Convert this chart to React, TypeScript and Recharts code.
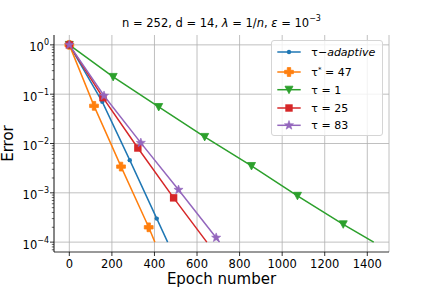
import { CartesianGrid, Legend, Line, LineChart, XAxis, YAxis } from "recharts";

const adaptiveEpochs = [0, 155, 284, 411, 462];
const adaptiveError = [1, 0.07, 4.6e-3, 3.0e-4, 1.0e-4];
const optimalEpochs = [0, 116, 243, 373, 402];
const optimalError = [1, 0.058, 3.4e-3, 2.0e-4, 1.0e-4];
const tau1Epochs = [0, 206, 420, 636, 856, 1072, 1287, 1430];
const tau1Error = [1, 0.224, 0.055, 0.0136, 3.5e-3, 8.7e-4, 2.3e-4, 1.0e-4];
const tau25Epochs = [0, 158, 322, 490, 646];
const tau25Error = [1, 0.085, 8.1e-3, 7.9e-4, 1.0e-4];
const tau83Epochs = [0, 163, 336, 513, 690, 706];
const tau83Error = [1, 0.093, 0.0103, 1.15e-3, 1.23e-4, 1.0e-4];

const xTicks = [0, 200, 400, 600, 800, 1000, 1200, 1400];
const yMajor = [1e-4, 1e-3, 1e-2, 1e-1, 1];
const yMinor = [7e-5, 8e-5, 9e-5].concat(
  ...[-4, -3, -2, -1].map((k) => [2, 3, 4, 5, 6, 7, 8, 9].map((m) => Number((m * Math.pow(10, k)).toPrecision(3))))
);

const font = "DejaVu Sans, sans-serif";

type Kind = "dot" | "plus" | "tri" | "square" | "star";

function marker(kind: Kind, cx: number, cy: number, color: string) {
  if (kind === "dot") return <circle cx={cx} cy={cy} r={2.2} fill={color} />;
  if (kind === "plus") {
    const h = 4.4, t = 1.7;
    const d = `M${cx - t},${cy - h}H${cx + t}V${cy - t}H${cx + h}V${cy + t}H${cx + t}V${cy + h}H${cx - t}V${cy + t}H${cx - h}V${cy - t}H${cx - t}Z`;
    return <path d={d} fill={color} stroke={color} strokeWidth={0.8} strokeLinejoin="round" />;
  }
  if (kind === "tri")
    return <polygon points={`${cx - 4},${cy - 3.5} ${cx + 4},${cy - 3.5} ${cx},${cy + 4}`} fill={color} stroke={color} strokeWidth={0.8} />;
  if (kind === "square") return <rect x={cx - 3.7} y={cy - 3.7} width={7.4} height={7.4} fill={color} />;
  const pts: string[] = [];
  for (let i = 0; i < 10; i++) {
    const r = i % 2 === 0 ? 4.8 : 2;
    const a = -Math.PI / 2 + (i * Math.PI) / 5;
    pts.push(`${cx + r * Math.cos(a)},${cy + r * Math.sin(a)}`);
  }
  return <polygon points={pts.join(" ")} fill={color} stroke={color} strokeWidth={0.6} />;
}

const toRows = (xs: number[], ys: number[]) => xs.map((x, i) => ({ x, y: ys[i] }));

const series = [
  { key: "adaptive", color: "#1f77b4", kind: "dot" as Kind, data: toRows(adaptiveEpochs, adaptiveError) },
  { key: "optimal", color: "#ff7f0e", kind: "plus" as Kind, data: toRows(optimalEpochs, optimalError) },
  { key: "tau1", color: "#2ca02c", kind: "tri" as Kind, data: toRows(tau1Epochs, tau1Error) },
  { key: "tau25", color: "#d62728", kind: "square" as Kind, data: toRows(tau25Epochs, tau25Error) },
  { key: "tau83", color: "#9467bd", kind: "star" as Kind, data: toRows(tau83Epochs, tau83Error) },
];

const legendLabels = [
  <>τ−<tspan fontStyle="italic">adaptive</tspan></>,
  <>τ<tspan dy={-4} fontSize={7}>*</tspan><tspan dy={4}> = 47</tspan></>,
  <>τ = 1</>,
  <>τ = 25</>,
  <>τ = 83</>,
];
const legendRows = [11, 31, 48.7, 67, 84.3];

function LegendBox() {
  return (
    <div style={{ width: 112, height: 96, border: "1px solid #d5d5d5", borderRadius: 3, background: "rgba(255,255,255,0.8)", boxSizing: "border-box" }}>
      <svg width={110} height={94} style={{ display: "block" }}>
        {series.map((s, i) => (
          <g key={s.key}>
            <line x1={5.3} x2={28.7} y1={legendRows[i]} y2={legendRows[i]} stroke={s.color} strokeWidth={1.5} />
            {marker(s.kind, 17, legendRows[i], s.color)}
            <text x={39.3} y={legendRows[i]} dy="0.35em" fontSize={11} fontFamily={font} fill="#000">
              {legendLabels[i]}
            </text>
          </g>
        ))}
      </svg>
    </div>
  );
}

function YTick({ x, y, payload }: any) {
  const v = payload.value;
  const lg = Math.log10(v);
  const exp = Math.round(lg);
  const major = Math.abs(lg - exp) < 1e-6;
  return (
    <g>
      <line x1={x} x2={x - (major ? 4 : 2.2)} y1={y} y2={y} stroke="#000" strokeWidth={major ? 0.8 : 0.6} />
      {major && (
        <text x={x - 5} y={y} dy={6.5} textAnchor="end" fontSize={11.5} fontFamily={font} fill="#000">
          10<tspan dy={-6} fontSize={8}>{exp < 0 ? "−" + -exp : String(exp)}</tspan>
        </text>
      )}
    </g>
  );
}

function XTick({ x, y, payload }: any) {
  return (
    <g>
      <line x1={x} x2={x} y1={y} y2={y + 4} stroke="#000" strokeWidth={0.8} />
      <text x={x} y={y + 7.5} dy="0.75em" textAnchor="middle" fontSize={11.5} fontFamily={font} fill="#000">
        {payload.value}
      </text>
    </g>
  );
}

function makeDot(kind: Kind, color: string, n: number) {
  return (props: any) => {
    const { cx, cy, index } = props;
    if (index === n - 1 || cx == null) return <g key={index} />;
    return <g key={index}>{marker(kind, cx, cy, color)}</g>;
  };
}

export default function App() {
  return (
    <div style={{ position: "absolute", left: 0, top: 0, fontFamily: font }}>
      <LineChart width={432} height={288} margin={{ top: 35, right: 43, bottom: 0, left: 0 }}>
        <CartesianGrid stroke="#b0b0b0" strokeWidth={0.8} horizontalValues={yMajor} />
        <XAxis type="number" dataKey="x" domain={[-72, 1502]} ticks={xTicks} allowDataOverflow height={36}
          tick={<XTick />} tickLine={false} tickSize={0} tickMargin={0} axisLine={{ stroke: "#000", strokeWidth: 0.8 }} />
        <XAxis xAxisId="top" orientation="top" type="number" domain={[-72, 1502]} allowDataOverflow height={0}
          tick={false} tickLine={false} axisLine={{ stroke: "#000", strokeWidth: 0.8 }} />
        <YAxis type="number" scale="log" domain={[6.31e-5, 1.585]} allowDataOverflow width={54} ticks={[...yMajor, ...yMinor]}
          interval={0} tick={<YTick />} tickLine={false} tickSize={0} tickMargin={0} axisLine={{ stroke: "#000", strokeWidth: 0.8 }} />
        <YAxis yAxisId="right" orientation="right" width={0} tick={false} tickLine={false}
          axisLine={{ stroke: "#000", strokeWidth: 0.8 }} />
        {series.map((s) => (
          <Line key={s.key} data={s.data} dataKey="y" type="linear" stroke={s.color} strokeWidth={1.5}
            dot={makeDot(s.kind, s.color, s.data.length)} activeDot={false} isAnimationActive={false} />
        ))}
        <Legend align="center" verticalAlign="middle" layout="horizontal" content={() => <LegendBox />}
          wrapperStyle={{ left: 271, top: 40, width: 112, height: 96 }} />
        <text x={221.5} y={27} textAnchor="middle" fontSize={11.5} fontFamily={font} fill="#000">
          n = 252, d = 14, <tspan fontStyle="italic">λ</tspan> = 1/<tspan fontStyle="italic">n</tspan>,  <tspan fontStyle="italic">ε</tspan> = 10<tspan dy={-6} fontSize={8}>−3</tspan>
        </text>
        <text x={221.5} y={284} textAnchor="middle" fontSize={15} fontFamily={font} fill="#000">Epoch number</text>
        <text x={8} y={143.5} textAnchor="middle" dominantBaseline="central" fontSize={15} fontFamily={font} fill="#000"
          transform="rotate(-90 8 143.5)">Error</text>
      </LineChart>
    </div>
  );
}
